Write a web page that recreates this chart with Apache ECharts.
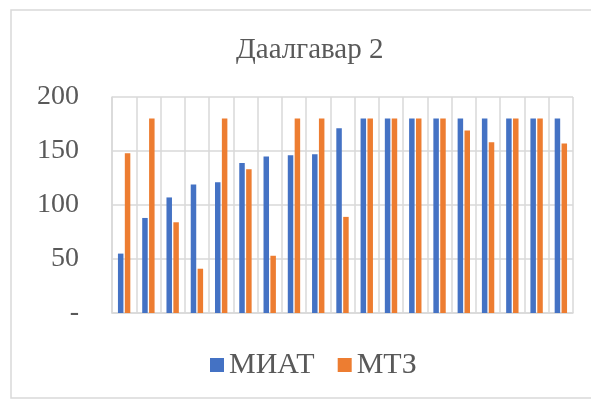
<!DOCTYPE html>
<html>
<head>
<meta charset="utf-8">
<script src="https://cdn.jsdelivr.net/npm/echarts@6/dist/echarts.min.js"></script>
<style>
html, body { margin: 0; padding: 0; background: #fff; }
#main { width: 591px; height: 400px; }
</style>
</head>
<body>
<div id="main"></div>
<script>
var categories = ['1', '2', '3', '4', '5', '6', '7', '8', '9', '10',
    '11', '12', '13', '14', '15', '16', '17', '18', '19'];
var miat = [55, 88, 107, 119, 121, 139, 145, 146, 147, 171, 180, 180, 180, 180, 180, 180, 180, 180, 180];
var mtz = [148, 180, 84, 41, 180, 133, 53, 180, 180, 89, 180, 180, 180, 180, 169, 158, 180, 180, 157];
var yTicks = [0, 50, 100, 150, 200];

var myChart = echarts.init(document.getElementById('main'));
var fontFam = '"Liberation Serif", "Times New Roman", serif';

var option = {
    animation: false,
    title: {
        text: 'Даалгавар 2',
        left: 231,
        top: 31,
        textStyle: { fontFamily: fontFam, fontSize: 29, fontWeight: 'normal', color: '#595959' }
    },
    legend: {
        bottom: 15,
        left: 205,
        itemWidth: 14,
        itemHeight: 14,
        itemGap: 23,
        icon: 'rect',
        textStyle: { fontFamily: fontFam, fontSize: 30, color: '#595959' },
        data: ['МИАТ', 'МТЗ']
    },
    graphic: [{
        type: 'rect',
        shape: { x: 11, y: 10, width: 600, height: 388 },
        style: { fill: 'none', stroke: '#d9d9d9', lineWidth: 1.5 },
        silent: true
    }],
    grid: { left: 112, right: 18, top: 97, bottom: 87 },
    xAxis: {
        type: 'category',
        data: categories,
        axisLabel: { show: false },
        axisTick: { show: false },
        axisLine: { lineStyle: { color: '#d9d9d9', width: 1.5 } },
        splitLine: { show: true, lineStyle: { color: '#d9d9d9', width: 1.5 } }
    },
    yAxis: {
        type: 'value',
        min: yTicks[0],
        max: yTicks[yTicks.length - 1],
        interval: 50,
        axisLine: { show: true, lineStyle: { color: '#d9d9d9', width: 1.5 } },
        axisTick: { show: false },
        axisLabel: {
            fontFamily: fontFam, fontSize: 28, color: '#595959', margin: 33,
            formatter: function (v) { return v === 0 ? '-' : v; }
        },
        splitLine: { lineStyle: { color: '#d9d9d9', width: 1.5 } }
    },
    series: [{
        name: 'МИАТ',
        type: 'bar',
        data: miat,
        barWidth: 5.5,
        barGap: '25%',
        itemStyle: { color: '#4472C4' }
    }, {
        name: 'МТЗ',
        type: 'bar',
        data: mtz,
        barWidth: 5.5,
        itemStyle: { color: '#ED7D31' }
    }]
};

myChart.setOption(option);
</script>
</body>
</html>
